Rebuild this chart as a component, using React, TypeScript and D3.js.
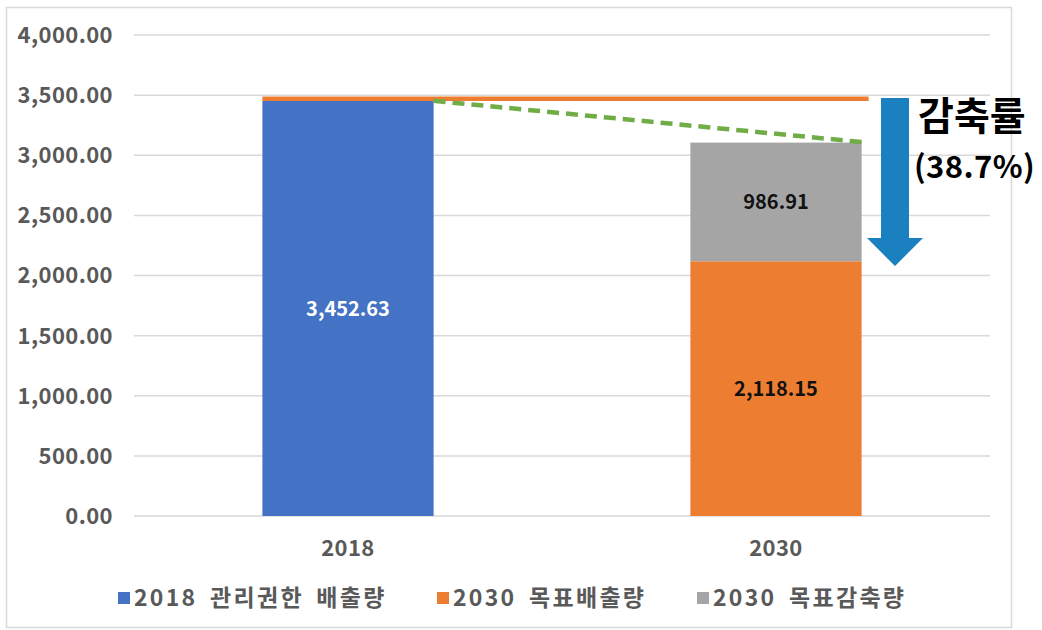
import React from "react";
import * as d3 from "d3";

const categories = ["2018", "2030"];
const blueSeries = [3452.63, 0]; // 2018 관리권한 배출량
const orangeSeries = [0, 2118.15]; // 2030 목표배출량
const graySeries = [0, 986.91]; // 2030 목표감축량
const yTicks = [0, 500, 1000, 1500, 2000, 2500, 3000, 3500, 4000];
const legendLabels = ["2018 관리권한 배출량", "2030 목표배출량", "2030 목표감축량"];
const baselineValue = 3470; // orange reference line
const reductionTitle = "감축률";
const reductionRate = "(38.7%)";

const W = 1042;
const H = 630;
const FONT = "'Noto Sans CJK KR', 'Noto Sans', sans-serif";
const COLORS = ["#4472C4", "#ED7D31", "#A5A5A5"];

export default function App() {
  const y = d3.scaleLinear().domain([0, 4000]).range([516, 35]);
  const x = d3.scaleBand().domain(categories).range([134, 990]).paddingInner(0.6).paddingOuter(0.3);
  const bw = x.bandwidth();
  const fmt = d3.format(",.2f");

  const x18 = x("2018")!;
  const x30 = x("2030")!;
  const total2030 = orangeSeries[1] + graySeries[1];

  const legendX = [118, 437, 697];

  return (
    <svg width={W} height={H} style={{ position: "absolute", left: 0, top: 0, background: "#fff" }}>
      <rect x={6.5} y={7.5} width={1005} height={620} fill="#fff" stroke="#D9D9D9" strokeWidth={1.5} />
      {yTicks.map((t) => (
        <g key={t}>
          <line x1={134} x2={990} y1={y(t)} y2={y(t)} stroke="#D9D9D9" strokeWidth={1.5} />
          <text x={113} y={y(t)} dy="0.36em" textAnchor="end" fontFamily={FONT} fontSize={22} fontWeight={700} letterSpacing={0.4} fill="#595959">
            {fmt(t)}
          </text>
        </g>
      ))}
      {categories.map((c, i) => (
        <g key={c}>
          {blueSeries[i] > 0 && (
            <rect x={x(c)} y={y(blueSeries[i])} width={bw} height={y(0) - y(blueSeries[i])} fill={COLORS[0]} />
          )}
          {orangeSeries[i] > 0 && (
            <rect x={x(c)} y={y(orangeSeries[i])} width={bw} height={y(0) - y(orangeSeries[i])} fill={COLORS[1]} />
          )}
          {graySeries[i] > 0 && (
            <rect
              x={x(c)}
              y={y(orangeSeries[i] + graySeries[i])}
              width={bw}
              height={y(orangeSeries[i]) - y(orangeSeries[i] + graySeries[i])}
              fill={COLORS[2]}
            />
          )}
          <text x={x(c)! + bw / 2} y={548} dy="0.36em" textAnchor="middle" fontFamily={FONT} fontSize={22} fontWeight={700} letterSpacing={0.4} fill="#595959">
            {c}
          </text>
        </g>
      ))}
      {/* data labels */}
      <text x={x18 + bw / 2} y={y(blueSeries[0] / 2)} dy="0.36em" textAnchor="middle" fontFamily={FONT} fontSize={20} fontWeight={700} fill="#fff">
        {fmt(blueSeries[0])}
      </text>
      <text x={x30 + bw / 2} y={y(orangeSeries[1] / 2)} dy="0.36em" textAnchor="middle" fontFamily={FONT} fontSize={20} fontWeight={700} fill="#111">
        {fmt(orangeSeries[1])}
      </text>
      <text x={x30 + bw / 2} y={y(orangeSeries[1] + graySeries[1] / 2)} dy="0.36em" textAnchor="middle" fontFamily={FONT} fontSize={20} fontWeight={700} fill="#111">
        {fmt(graySeries[1])}
      </text>
      {/* orange reference line */}
      <line x1={x18} x2={x30 + bw + 7} y1={y(baselineValue)} y2={y(baselineValue)} stroke={COLORS[1]} strokeWidth={4.5} />
      {/* green dashed trend */}
      <line
        x1={x18 + bw}
        y1={y(blueSeries[0])}
        x2={x30 + bw + 6}
        y2={y(total2030)}
        stroke="#70AD47"
        strokeWidth={4.5}
        strokeDasharray="12 7"
      />
      {/* arrow */}
      <path d="M881,98 L909,98 L909,238 L923,238 L895,266 L867,238 L881,238 Z" fill="#1B80C0" />
      <text x={918} y={116} dy="0.36em" fontFamily={FONT} fontSize={39} fontWeight={700} fill="#000">
        {reductionTitle}
      </text>
      <text x={914} y={167} dy="0.36em" fontFamily={FONT} fontSize={31} fontWeight={700} letterSpacing={0.4} fill="#000">
        {reductionRate}
      </text>
      {/* legend */}
      {legendLabels.map((l, i) => (
        <g key={l}>
          <rect x={legendX[i]} y={592} width={12} height={12} fill={COLORS[i]} />
          <text x={legendX[i] + 16} y={598} dy="0.36em" fontFamily={FONT} fontSize={23} fontWeight={700} letterSpacing={2.3} wordSpacing={5} fill="#595959">
            {l}
          </text>
        </g>
      ))}
    </svg>
  );
}
